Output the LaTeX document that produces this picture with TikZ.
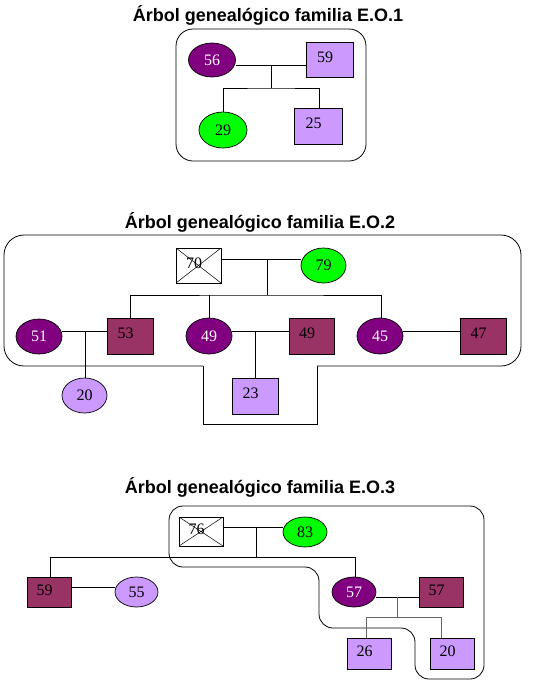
\documentclass[tikz,border=0pt]{standalone}
\usepackage{fontspec}
\setmainfont{Liberation Serif}
\newfontfamily\titlefont{Liberation Sans}
\usetikzlibrary{shapes.geometric}
\definecolor{dpurple}{HTML}{800080}
\definecolor{maroonq}{HTML}{993366}
\definecolor{lilac}{HTML}{CC99FF}
\definecolor{lgreen}{HTML}{00FF00}
\begin{document}
\begin{tikzpicture}[x=1pt,y=-1pt,line width=0.8pt,
  base/.style={draw=black,line width=0.7pt,inner sep=0pt,font=\fontsize{16}{16}\selectfont},
  ell/.style={base,ellipse,minimum width=46pt,minimum height=35pt},
  sq/.style={base,rectangle,minimum width=46pt,minimum height=36pt,text depth=5pt,execute at begin node={\hspace*{-9pt}}},
  ellp/.style={ell,fill=dpurple,text=white},
  ellg/.style={ell,fill=lgreen},
  elll/.style={ell,fill=lilac},
  sqm/.style={sq,fill=maroonq},
  sql/.style={sq,fill=lilac},
  crossbox/.style={sq,fill=white,path picture={\draw[line width=0.5pt] (path picture bounding box.north west) -- (path picture bounding box.south east) (path picture bounding box.north east) -- (path picture bounding box.south west);}},
  ttl/.style={font=\titlefont\bfseries\fontsize{18}{18}\selectfont,inner sep=0pt},
  outline/.style={draw=black,line width=0.8pt},
  thin/.style={line width=0.6pt,draw=black!60}
]
\useasboundingbox (0,0) rectangle (540,686);
\fill[white] (0,0) rectangle (540,686);

% ---------- Family 1 ----------
\node[ttl] (t1) at (268,15) {Árbol genealógico familia E.O.1};
\draw[outline,rounded corners=17] (176,29) rectangle (366,161);
\node[ellp,minimum width=47pt,minimum height=34pt] (a56) at (212,60) {56};
\node[sql,minimum width=47pt,minimum height=35pt] (a59) at (329.5,59.5) {59};
\node[ellg,minimum width=48pt,minimum height=36pt] (a29) at (223,130) {29};
\node[sql,minimum width=48pt] (a25) at (318,126) {25};
\coordinate (j1a) at (271,65);
\coordinate (j1b) at (271,88);
\coordinate (k25) at (319,88);
\draw (a56.east |- j1a) -- (a59.west |- j1a);
\draw (j1a) -- (j1b);
\draw (a29.north) |- (j1b) -- (k25) -- (k25 |- a25.north);

% ---------- Family 2 ----------
\node[ttl] (t2) at (260,222) {Árbol genealógico familia E.O.2};
\draw[outline,rounded corners=20] (203,366) -- (4,366) -- (4,235) -- (521,235) -- (521,366) -- (317,366);
\draw[outline] (203,366) -- (203,424) -- (317,424) -- (317,366);
\node[crossbox,minimum width=45pt,minimum height=35pt] (b70) at (198.5,265.5) {70};
\node[ellg,minimum width=45pt] (b79) at (323.5,265.5) {79};
\coordinate (j2a) at (267,259);
\coordinate (j2b) at (267,295);
\draw (b70.east |- j2a) -- (b79.west |- j2a);
\draw (j2a) -- (j2b);
\node[ellp] (b51) at (39,336.5) {51};
\node[sqm] (b53) at (130,336) {53};
\node[ellp,minimum height=36pt] (b49) at (209,336) {49};
\node[sqm,minimum width=45pt] (b49m) at (311.5,336) {49};
\node[ellp,minimum height=36pt] (b45) at (380,336) {45};
\node[sqm] (b47) at (483,336) {47};
\node[elll,minimum width=45pt] (b20) at (84.5,395.5) {20};
\node[sql] (b23) at (255,396) {23};
\coordinate (k45) at (381,295);
\draw (b53.north) |- (j2b) -- (k45) -- (k45 |- b45.north);
\draw (b49.north) -- (b49.north |- j2b);
\coordinate (j2c) at (85,331);
\coordinate (j2d) at (255,331);
\draw (b51.east |- j2c) -- (b53.west |- j2c);
\draw (j2c) -- (j2c |- b20.north);
\draw (b49.east |- j2d) -- (b49m.west |- j2d);
\draw (j2d) -- (b23.north);
\draw (b45.east |- j2c) -- (b47.west |- j2c);

% ---------- Family 3 ----------
\node[ttl] (t3) at (260,487) {Árbol genealógico familia E.O.3};
\draw[outline,rounded corners=14] (169,506) -- (484,506) -- (484,679) -- (415,679) -- (415,628) -- (319,628) -- (319,567) -- (169,567) -- cycle;
\node[crossbox,minimum width=44pt,minimum height=29pt,text depth=4pt] (c76) at (201,531.5) {76};
\node[ellg,minimum width=44pt,minimum height=30pt] (c83) at (305,532) {83};
\coordinate (j3a) at (256,527);
\coordinate (j3b) at (256,557);
\draw (c76.east |- j3a) -- (c83.west |- j3a);
\draw (j3a) -- (j3b);
\node[sqm,minimum width=44pt,minimum height=30pt,text depth=4pt] (c59) at (49,592) {59};
\node[elll,minimum width=43pt,minimum height=30pt] (c55) at (136.5,592) {55};
\node[ellp,minimum width=44pt,minimum height=30pt] (c57) at (354,592) {57};
\node[sqm,minimum width=44pt,minimum height=30pt,text depth=4pt] (c57m) at (441,592) {57};
\node[sql,minimum width=44pt,minimum height=31pt,text depth=4pt] (c26) at (369,653.5) {26};
\node[sql,minimum width=44pt,minimum height=31pt,text depth=4pt] (c20) at (452,653.5) {20};
\coordinate (k59) at (50,557);
\coordinate (k57) at (355,557);
\draw[line width=0.7pt] (k59 |- c59.north) -- (k59) -- (k57) -- (k57 |- c57.north);
\coordinate (j3e) at (0,587);
\draw (c59.east |- j3e) -- (c55.west |- j3e);
\coordinate (j3c) at (397,597);
\coordinate (j3d) at (397,617);
\coordinate (k26) at (366,617);
\coordinate (k20) at (441,617);
\draw (c57.east |- j3c) -- (c57m.west |- j3c);
\draw[thin] (j3c) -- (j3d);
\draw[thin] (k26 |- c26.north) -- (k26) -- (k20) -- (k20 |- c20.north);
\end{tikzpicture}
\end{document}
